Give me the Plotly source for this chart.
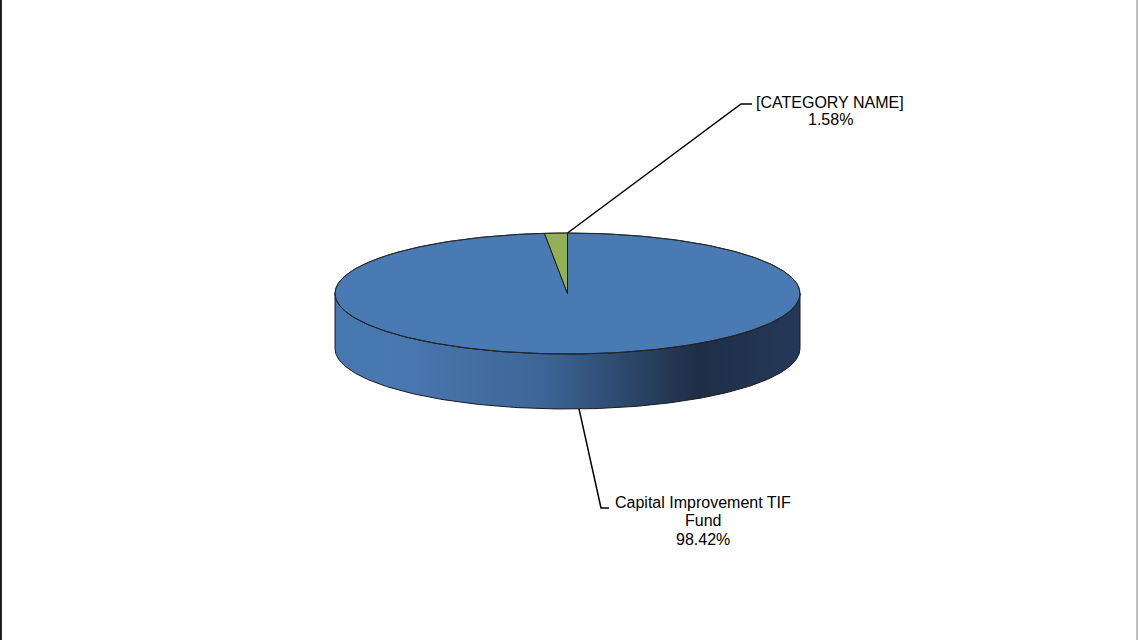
import numpy as np
import plotly.graph_objects as go

# Data
categories = ["Capital Improvement TIF Fund", "[CATEGORY NAME]"]
values = [98.42, 1.58]
label_lines = [["Capital Improvement TIF", "Fund", "98.42%"], ["[CATEGORY NAME]", "1.58%"]]

# Styling
top_colors = ["#4a7ab4", "#92b157"]
edge_color = "#1b1b1b"
side_scale = [[0.0, "#4677ae"], [0.12, "#4a79b2"], [0.45, "#3d6597"],
              [0.78, "#1e2e46"], [1.0, "#24395a"]]

W, H = 1138, 640
cx, cy = 567.5, 293.5      # centre of top face (pixels)
rx, ry = 232.5, 60.5       # ellipse radii
depth = 55.0               # thickness of the disc


def ell(theta_deg, dy=0.0):
    t = np.radians(theta_deg)
    return cx + rx * np.cos(t), cy - ry * np.sin(t) + dy


fig = go.Figure()

# slice angles: start at 12 o'clock, clockwise
total = float(sum(values))
spans = [v / total * 360.0 for v in values]
starts = []
a = 90.0
for s in spans:
    starts.append(a)
    a -= s

# front side wall (visible lower half of the rim)
front = np.linspace(180, 360, 200)
xt, yt = ell(front)
xb, yb = ell(front[::-1], depth)
sx = np.concatenate([xt, xb, xt[:1]])
sy = np.concatenate([yt, yb, yt[:1]])
fig.add_trace(go.Scatter(
    x=sx, y=sy, mode="lines", fill="toself",
    line=dict(color=edge_color, width=1),
    fillgradient=dict(type="horizontal", colorscale=side_scale,
                      start=cx - rx, stop=cx + rx),
    hoverinfo="skip", showlegend=False))

# top faces of slices
for name, st, sp, col in zip(categories, starts, spans, top_colors):
    th = np.linspace(st, st - sp, max(int(sp * 2), 8))
    ax_, ay_ = ell(th)
    px = np.concatenate([[cx], ax_, [cx]])
    py = np.concatenate([[cy], ay_, [cy]])
    fig.add_trace(go.Scatter(
        x=px, y=py, mode="lines", fill="toself", fillcolor=col,
        line=dict(color=edge_color, width=1), name=name,
        hoverinfo="name", showlegend=False))

# top outline of the whole disc (thin rim)
full = np.linspace(0, 360, 400)
ox, oy = ell(full)
fig.add_trace(go.Scatter(x=ox, y=oy, mode="lines",
                         line=dict(color="#2a2a2a", width=0.8),
                         hoverinfo="skip", showlegend=False))

# leader lines and labels
font = dict(family="Liberation Sans, Arial, sans-serif", size=16, color="#000000")

# big slice: anchor at mid-angle on the bottom rim
mid0 = starts[0] - spans[0] / 2
x0, y0 = ell(mid0, depth)
fig.add_trace(go.Scatter(x=[x0, 601, 609], y=[y0, 508, 508], mode="lines",
                         line=dict(color="#000000", width=1.5),
                         hoverinfo="skip", showlegend=False))
for txt, yy in zip(label_lines[0], [502.5, 520.5, 539.5]):
    fig.add_annotation(x=703, y=yy, text=txt, showarrow=False, font=font,
                       xanchor="center", yanchor="middle")

# small slice: anchor at its clockwise edge on the top rim
x1, y1 = ell(starts[1] - spans[1])
fig.add_trace(go.Scatter(x=[x1, 741, 752], y=[y1, 104, 104], mode="lines",
                         line=dict(color="#000000", width=1.5),
                         hoverinfo="skip", showlegend=False))
for txt, yy in zip(label_lines[1], [102, 119.5]):
    fig.add_annotation(x=830, y=yy, text=txt, showarrow=False, font=font,
                       xanchor="center", yanchor="middle")

# chart frame edges
fig.add_shape(type="line", xref="paper", yref="paper", x0=0.0008, x1=0.0008,
              y0=0, y1=1, line=dict(color="#1a1a1a", width=2))
fig.add_shape(type="line", xref="paper", yref="paper", x0=0.9992, x1=0.9992,
              y0=0, y1=1, line=dict(color="#a6a6a6", width=1.5))

fig.update_layout(
    width=W, height=H, margin=dict(l=0, r=0, t=0, b=0),
    paper_bgcolor="#ffffff", plot_bgcolor="#ffffff",
    xaxis=dict(range=[0, W], visible=False, fixedrange=True),
    yaxis=dict(range=[H, 0], visible=False, fixedrange=True),
    showlegend=False,
)

fig.write_html("out.html")
